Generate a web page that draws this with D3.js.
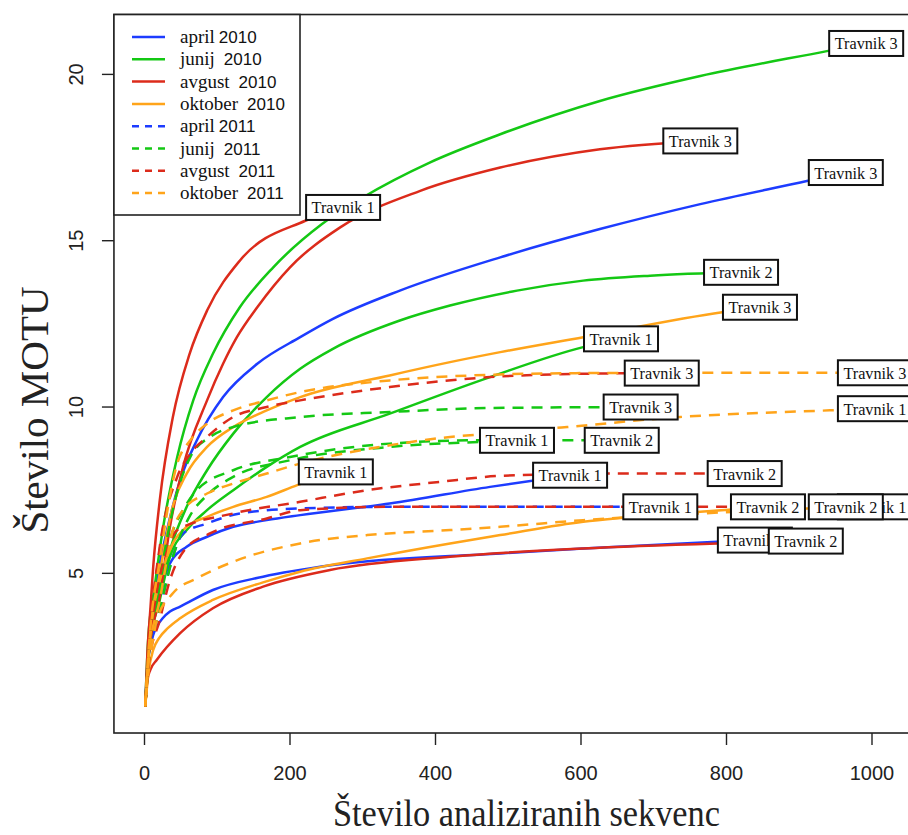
<!DOCTYPE html>
<html>
<head>
<meta charset="utf-8">
<script src="https://cdn.jsdelivr.net/npm/d3@7"></script>
<style>
body { margin: 0; background: #fff; }
svg { display: block; }
</style>
</head>
<body>
<div id="chart"></div>
<script>
// kategorije
var months = ["april", "junij", "avgust", "oktober"];
var years = ["2010", "2011"];
var sites = ["Travnik 1", "Travnik 2", "Travnik 3"];
var xTicks = [0, 200, 400, 600, 800, 1000];
var yTicks = [5, 10, 15, 20];

// krivulje redčenja: [število sekvenc, število MOTU]
var apr10_t1 = [[1,1],[7,2.9],[21,4.5],[35,5.3],[58,5.8],[86,6.1],[122,6.4],[168,6.6],[214,6.75],[337,7.1],[475,7.6],[585,7.95]];
var apr10_t2 = [[1,1],[5,2.4],[8,2.8],[12,3.15],[17,3.4],[25,3.65],[35,3.85],[49,4.0],[94,4.5],[163,4.9],[259,5.25],[489,5.6],[603,5.75],[787,5.95],[839,6.0]];
var apr10_t3 = [[1,1],[6,3.0],[17,4.8],[31,6.3],[49,7.8],[72,9.0],[108,10.3],[155,11.3],[214,12.1],[259,12.65],[351,13.5],[489,14.5],[626,15.35],[764,16.1],[912,16.8],[964,17.05]];
var jun10_t1 = [[1,1],[7,2.8],[21,4.2],[35,5.5],[58,6.3],[86,6.9],[122,7.5],[168,8.2],[214,8.8],[337,9.8],[475,10.9],[603,11.8],[655,12.05]];
var jun10_t2 = [[1,1],[7,3.0],[21,4.5],[35,5.7],[58,7.0],[86,8.1],[122,9.2],[168,10.3],[214,11.15],[259,11.75],[351,12.6],[420,13.05],[512,13.5],[603,13.8],[695,13.95],[820,14.05]];
var jun10_t3 = [[1,1],[5,3.0],[14,4.6],[25,6.3],[45,8.5],[67,10.2],[94,11.6],[131,13.0],[177,14.2],[244,15.5],[300,16.3],[392,17.35],[489,18.2],[626,19.2],[764,19.95],[938,20.7],[992,20.93]];
var avg10_t1 = [[1,1],[4,2.6],[8,3.9],[12,5.2],[21,7.2],[39,9.7],[62,11.6],[86,12.9],[131,14.4],[221,15.6],[273,16.0]];
var avg10_t2 = [[1,1],[4,1.8],[8,2.1],[17,2.4],[49,3.2],[94,3.95],[163,4.6],[255,5.1],[420,5.5],[603,5.75],[787,5.9],[909,5.97]];
var avg10_t3 = [[1,1],[6,2.6],[21,4.3],[35,6.4],[53,8.2],[86,10.2],[108,11.3],[127,12.1],[155,13.0],[200,14.2],[269,15.4],[379,16.5],[489,17.2],[626,17.75],[764,18.0]];
var okt10_t1 = [[1,1],[7,2.9],[25,5.1],[39,5.9],[58,6.4],[86,6.7],[122,7.0],[168,7.3],[210,7.65],[263,8.05]];
var okt10_t2 = [[1,1],[6,2.1],[12,2.7],[20,3.05],[32,3.35],[49,3.65],[94,4.2],[163,4.73],[214,5.05],[306,5.45],[420,5.9],[489,6.15],[603,6.55],[658,6.67],[764,6.85],[857,7.0]];
var okt10_t3 = [[1,1],[7,3.0],[21,5.0],[40,7.1],[58,8.0],[86,8.8],[122,9.4],[168,9.9],[214,10.3],[337,10.95],[420,11.35],[489,11.65],[603,12.1],[794,12.85],[846,13.0]];
var apr11_t1 = [[1,1],[6,2.5],[21,3.9],[39,5.5],[53,6.2],[86,6.5],[131,6.8],[214,6.95],[337,7.0],[612,7.0],[709,7.0]];
var jun11_t1 = [[1,1],[6,2.6],[19,4.2],[35,6.0],[53,6.9],[72,7.5],[122,8.1],[200,8.5],[337,8.9],[457,9.0],[512,9.0]];
var jun11_t2 = [[1,1],[6,2.4],[21,3.9],[42,5.7],[63,6.75],[86,7.35],[122,7.9],[200,8.4],[337,8.8],[461,8.95],[598,9.0],[656,9.0]];
var jun11_t3 = [[1,1],[6,2.7],[21,4.8],[42,7.2],[63,8.5],[90,9.1],[122,9.4],[214,9.7],[337,9.85],[475,9.97],[682,10.0]];
var avg11_t1 = [[1,1],[6,2.3],[21,3.6],[35,4.8],[55,5.7],[90,6.2],[168,6.65],[214,6.9],[337,7.0],[787,7.0],[1004,7.0]];
var avg11_t2 = [[1,1],[6,2.6],[15,4.2],[30,5.6],[45,6.3],[122,6.8],[214,7.15],[306,7.5],[406,7.75],[489,7.93],[640,8.0],[825,8.0]];
var avg11_t3 = [[1,1],[6,2.8],[21,5.8],[45,7.9],[63,8.6],[86,9.1],[122,9.7],[168,10.0],[214,10.2],[337,10.6],[475,10.9],[603,11.0],[711,11.02]];
var okt11_t1 = [[1,1],[6,2.5],[21,4.2],[39,6.3],[53,6.9],[86,7.4],[122,7.7],[168,8.0],[214,8.3],[337,8.85],[420,9.1],[475,9.2],[581,9.4],[736,9.7],[942,9.9],[1004,9.95]];
var okt11_t2 = [[1,1],[5,2.2],[10,2.8],[17,3.6],[39,4.4],[72,4.85],[122,5.35],[214,5.9],[306,6.15],[420,6.3],[489,6.4],[603,6.6],[764,6.8],[964,7.0]];
var okt11_t3 = [[1,1],[6,2.8],[21,5.4],[45,8.3],[63,9.0],[86,9.5],[122,9.9],[168,10.2],[214,10.45],[337,10.8],[475,10.97],[603,11.02],[787,11.03],[1004,11.03]];

// tabela serij (mesec, leto, travnik)
var series = [
  {m: 0, y: 0, s: 0, v: apr10_t1}, {m: 0, y: 0, s: 1, v: apr10_t2}, {m: 0, y: 0, s: 2, v: apr10_t3},
  {m: 1, y: 0, s: 0, v: jun10_t1}, {m: 1, y: 0, s: 1, v: jun10_t2}, {m: 1, y: 0, s: 2, v: jun10_t3},
  {m: 2, y: 0, s: 0, v: avg10_t1}, {m: 2, y: 0, s: 1, v: avg10_t2}, {m: 2, y: 0, s: 2, v: avg10_t3},
  {m: 3, y: 0, s: 0, v: okt10_t1}, {m: 3, y: 0, s: 1, v: okt10_t2}, {m: 3, y: 0, s: 2, v: okt10_t3},
  {m: 0, y: 1, s: 0, v: apr11_t1},
  {m: 1, y: 1, s: 0, v: jun11_t1}, {m: 1, y: 1, s: 1, v: jun11_t2}, {m: 1, y: 1, s: 2, v: jun11_t3},
  {m: 2, y: 1, s: 0, v: avg11_t1}, {m: 2, y: 1, s: 1, v: avg11_t2}, {m: 2, y: 1, s: 2, v: avg11_t3},
  {m: 3, y: 1, s: 0, v: okt11_t1}, {m: 3, y: 1, s: 1, v: okt11_t2}, {m: 3, y: 1, s: 2, v: okt11_t3}
];

var colors = ["#1d3cff", "#14c814", "#dc2b1b", "#ffa41a"];
var width = 908, height = 835;
var serif = "'Liberation Serif', 'Times New Roman', serif";
var sans = "'Liberation Sans', Arial, sans-serif";

var svg = d3.select("#chart").append("svg")
    .attr("width", width)
    .attr("height", height);

var x = d3.scaleLinear().domain([0, 1000]).range([144.5, 872]);
var y = d3.scaleLinear().domain([1, 20]).range([706.4, 74.4]);

// okvir risalne površine (R: 4 % razširitev)
var boxL = x(-42), boxR = x(1092), boxT = y(21.8), boxB = y(0.2);

var line = d3.line()
    .x(function (d) { return x(d[0]); })
    .y(function (d) { return y(d[1]); })
    .curve(d3.curveMonotoneX);

// krivulje
svg.append("g").selectAll("path")
    .data(series)
    .enter()
    .append("path")
    .attr("d", function (d) { return line(d.v); })
    .attr("fill", "none")
    .attr("stroke", function (d) { return colors[d.m]; })
    .attr("stroke-width", 2.5)
    .attr("stroke-dasharray", function (d) { return d.y === 1 ? "11,8" : null; });

// oznake na koncu krivulj
var lab = svg.append("g").selectAll("g")
    .data(series)
    .enter()
    .append("g")
    .attr("transform", function (d) {
      var e = d.v[d.v.length - 1];
      return "translate(" + x(e[0]) + "," + y(e[1]) + ")";
    });
lab.append("rect")
    .attr("x", -37).attr("y", -12.5)
    .attr("width", 74).attr("height", 25)
    .attr("fill", "#fff")
    .attr("stroke", "#111")
    .attr("stroke-width", 2);
lab.append("text")
    .attr("text-anchor", "middle")
    .attr("y", 6)
    .style("font-family", serif)
    .style("font-size", "17px")
    .attr("textLength", 63)
    .attr("lengthAdjust", "spacingAndGlyphs")
    .attr("fill", "#111")
    .text(function (d) { return sites[d.s]; });

// okvir
svg.append("rect")
    .attr("x", boxL).attr("y", boxT)
    .attr("width", boxR - boxL).attr("height", boxB - boxT)
    .attr("fill", "none")
    .attr("stroke", "#222")
    .attr("stroke-width", 1.6);

// os x
var gx = svg.append("g");
gx.selectAll("line").data(xTicks).enter().append("line")
    .attr("x1", function (d) { return x(d); }).attr("x2", function (d) { return x(d); })
    .attr("y1", boxB).attr("y2", boxB + 12)
    .attr("stroke", "#222").attr("stroke-width", 1.4);
gx.selectAll("text").data(xTicks).enter().append("text")
    .attr("x", function (d) { return x(d); })
    .attr("y", 780)
    .attr("text-anchor", "middle")
    .style("font-family", sans).style("font-size", "20px")
    .attr("fill", "#222")
    .text(function (d) { return d; });

// os y
var gy = svg.append("g");
gy.selectAll("line").data(yTicks).enter().append("line")
    .attr("x1", boxL - 12).attr("x2", boxL)
    .attr("y1", function (d) { return y(d); }).attr("y2", function (d) { return y(d); })
    .attr("stroke", "#222").attr("stroke-width", 1.4);
gy.selectAll("text").data(yTicks).enter().append("text")
    .attr("transform", function (d) { return "translate(83," + y(d) + ") rotate(-90)"; })
    .attr("text-anchor", "middle")
    .style("font-family", sans).style("font-size", "20px")
    .attr("fill", "#222")
    .text(function (d) { return d; });

// naslovi osi
svg.append("text")
    .attr("x", (boxL + boxR) / 2)
    .attr("y", 826)
    .attr("text-anchor", "middle")
    .style("font-family", serif).style("font-size", "37px")
    .attr("textLength", 387)
    .attr("lengthAdjust", "spacingAndGlyphs")
    .attr("fill", "#222")
    .text("Število analiziranih sekvenc");
svg.append("text")
    .attr("transform", "translate(48,410) rotate(-90)")
    .attr("text-anchor", "middle")
    .style("font-family", serif).style("font-size", "41px")
    .attr("fill", "#222")
    .text("Število MOTU");

// legenda
var legend = svg.append("g");
legend.append("rect")
    .attr("x", boxL).attr("y", boxT)
    .attr("width", 300 - boxL).attr("height", 215 - boxT)
    .attr("fill", "#fff")
    .attr("stroke", "#222")
    .attr("stroke-width", 1.6);

var items = [];
years.forEach(function (yr, j) {
  months.forEach(function (mo, i) { items.push({m: i, y: j}); });
});
var row = legend.selectAll("g.item").data(items).enter().append("g")
    .attr("class", "item")
    .attr("transform", function (d, i) { return "translate(0," + (37 + i * 22.3) + ")"; });
row.append("line")
    .attr("x1", 132).attr("x2", 165)
    .attr("stroke", function (d) { return colors[d.m]; })
    .attr("stroke-width", 2.5)
    .attr("stroke-dasharray", function (d) { return d.y === 1 ? "7,6" : null; });
var t = row.append("text")
    .attr("x", 180).attr("y", 6)
    .attr("fill", "#111");
t.append("tspan")
    .style("font-family", serif).style("font-size", "19px")
    .text(function (d) { return months[d.m]; });
t.append("tspan")
    .attr("dx", function (d) { return d.m === 0 ? 4 : 9; })
    .style("font-family", sans).style("font-size", "17px")
    .text(function (d) { return years[d.y]; });
</script>
</body>
</html>
